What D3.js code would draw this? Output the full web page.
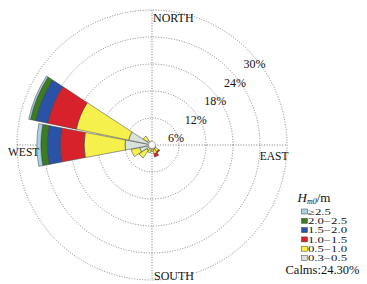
<!DOCTYPE html>
<html>
<head>
<meta charset="utf-8">
<script src="https://cdn.jsdelivr.net/npm/d3@7"></script>
<style>
  body { margin: 0; background: #fff; }
  svg { display: block; font-family: 'Liberation Serif', 'Times New Roman', serif; }
</style>
</head>
<body>
<svg id="chart" width="367" height="284"></svg>
<script>
// 16 compass sectors, frequency (%) of each wave height class
var directions = ['N', 'NNE', 'NE', 'ENE', 'E', 'ESE', 'SE', 'SSE', 'S', 'SSW', 'SW', 'WSW', 'W', 'WNW', 'NW', 'NNW'];
var classNames = ['0.3\u22120.5', '0.5\u22121.0', '1.0\u22121.5', '1.5\u22122.0', '2.0\u22122.5', '\u22652.5'];
var classColors = ['#d8e1da', '#f6f04c', '#d8222b', '#2a52a6', '#3c7d1f', '#a8d3e2'];

var h03 = [0.4, 0.3, 0.3, 0.4, 0.5, 0.7, 1.0, 1.0, 0.8, 0.8, 1.5, 2.8, 6.0, 5.3, 1.3, 0.8];
var h05 = [0.0, 0.0, 0.0, 0.0, 0.0, 0.2, 0.8, 1.0, 0.6, 1.0, 2.0, 1.9, 9.1, 11.9, 1.1, 0.0];
var h10 = [0.0, 0.0, 0.0, 0.0, 0.0, 0.0, 0.3, 0.7, 0.0, 0.0, 0.0, 0.0, 5.3, 6.5, 0.0, 0.0];
var h15 = [0.0, 0.0, 0.0, 0.0, 0.0, 0.0, 0.0, 0.0, 0.0, 0.0, 0.0, 0.0, 2.9, 2.7, 0.0, 0.0];
var h20 = [0.0, 0.0, 0.0, 0.0, 0.0, 0.0, 0.0, 0.0, 0.0, 0.0, 0.0, 0.0, 1.4, 1.2, 0.0, 0.0];
var h25 = [0.0, 0.0, 0.0, 0.0, 0.0, 0.0, 0.0, 0.0, 0.0, 0.0, 0.0, 0.0, 0.9, 0.4, 0.0, 0.0];
var seriesValues = [h03, h05, h10, h15, h20, h25];

var ringTicks = [6, 12, 18, 24, 30];
var calms = '24.30%';

var svg = d3.select('#chart');
var cx = 152, cy = 145;
var rScale = d3.scaleLinear().domain([0, 30]).range([0, 135]);
var sectorScale = d3.scaleBand().domain(directions).range([-Math.PI / 16, 2 * Math.PI - Math.PI / 16]).paddingInner(0.05).paddingOuter(0.025);

var chartGroup = svg.append('g')
  .attr('transform', 'translate(' + cx + ',' + cy + ')');

// grid circles
chartGroup.selectAll('.ring').data(ringTicks)
  .enter().append('circle')
    .attr('class', 'ring')
    .attr('r', function(d) { return rScale(d); })
    .attr('fill', 'none')
    .attr('stroke', '#666')
    .attr('stroke-width', 0.8)
    .attr('stroke-dasharray', '1,1.6');

// axis lines
var rMax = rScale(30);
chartGroup.append('line')
  .attr('x1', 0).attr('y1', -rMax).attr('x2', 0).attr('y2', rMax)
  .attr('stroke', '#555').attr('stroke-width', 0.8).attr('stroke-dasharray', '1,1.6');
chartGroup.append('line')
  .attr('x1', -rMax).attr('y1', 0).attr('x2', rMax).attr('y2', 0)
  .attr('stroke', '#555').attr('stroke-width', 0.8).attr('stroke-dasharray', '1,1.6');

// stacked segments, one record per direction + class
var segments = [];
directions.forEach(function(dir, i) {
  var base = 0;
  seriesValues.forEach(function(vals, k) {
    if (vals[i] > 0) {
      segments.push({ dir: dir, cls: k, inner: base, outer: base + vals[i] });
    }
    base += vals[i];
  });
});

var arc = d3.arc()
  .innerRadius(function(d) { return rScale(d.inner); })
  .outerRadius(function(d) { return rScale(d.outer); })
  .startAngle(function(d) { return sectorScale(d.dir); })
  .endAngle(function(d) { return sectorScale(d.dir) + sectorScale.bandwidth(); });

chartGroup.selectAll('.seg').data(segments)
  .enter().append('path')
    .attr('class', 'seg')
    .attr('d', arc)
    .attr('fill', function(d) { return classColors[d.cls]; })
    .attr('stroke', '#3a3a3a')
    .attr('stroke-width', 0.5);

// calm circle
chartGroup.append('circle')
  .attr('r', 3.5)
  .attr('fill', '#fff')
  .attr('stroke', '#888')
  .attr('stroke-width', 0.6);

// ring labels, set along a diagonal
var labelAngle = 46.6 * Math.PI / 180;
chartGroup.selectAll('.ringLabel').data(ringTicks)
  .enter().append('text')
    .attr('class', 'ringLabel')
    .attr('x', function(d) { return 4.5 + rScale(d) * Math.sin(labelAngle); })
    .attr('y', function(d) { return 12 - rScale(d) * Math.cos(labelAngle); })
    .attr('text-anchor', 'middle')
    .attr('dominant-baseline', 'central')
    .attr('font-size', 12)
    .attr('fill', '#111')
    .text(function(d) { return d + '%'; });

// compass names
chartGroup.append('text').attr('x', 1).attr('y', -123.5).attr('font-size', 12).attr('fill', '#111').text('NORTH');
chartGroup.append('text').attr('x', 2).attr('y', 134.5).attr('font-size', 12).attr('fill', '#111').text('SOUTH');
chartGroup.append('text').attr('x', rMax + 1.5).attr('y', 15).attr('text-anchor', 'end').attr('font-size', 11.5).attr('fill', '#111').text('EAST');
chartGroup.append('text').attr('x', -144).attr('y', 11).attr('font-size', 11.5).attr('fill', '#111').text('WEST');

// legend
var legend = svg.append('g').attr('transform', 'translate(301,0)');
var title = legend.append('text').attr('x', -3.5).attr('y', 202).attr('font-size', 13).attr('fill', '#111');
title.append('tspan').attr('font-style', 'italic').text('H');
title.append('tspan').attr('font-style', 'italic').attr('font-size', 8).attr('dy', 2).text('m0');
title.append('tspan').attr('dy', -2).text('/m');

var legendOrder = d3.range(classNames.length).reverse();
var rowY = d3.scalePoint().domain(legendOrder).range([211.5, 258]);
var rows = legend.selectAll('.row').data(legendOrder)
  .enter().append('g')
    .attr('class', 'row')
    .attr('transform', function(d) { return 'translate(0,' + rowY(d) + ')'; });
rows.append('rect')
  .attr('x', 0.5).attr('y', -2.5).attr('width', 6).attr('height', 5)
  .attr('fill', function(d) { return classColors[d]; })
  .attr('stroke', '#444').attr('stroke-width', 0.5);
rows.append('text')
  .attr('transform', 'translate(7,3.3) scale(1.5,1)')
  .attr('font-size', 8.5)
  .attr('fill', '#111')
  .text(function(d) { return classNames[d]; });

legend.append('text').attr('x', -15.5).attr('y', 273.5).attr('font-size', 12.5).attr('fill', '#111').text('Calms:' + calms);
</script>
</body>
</html>
